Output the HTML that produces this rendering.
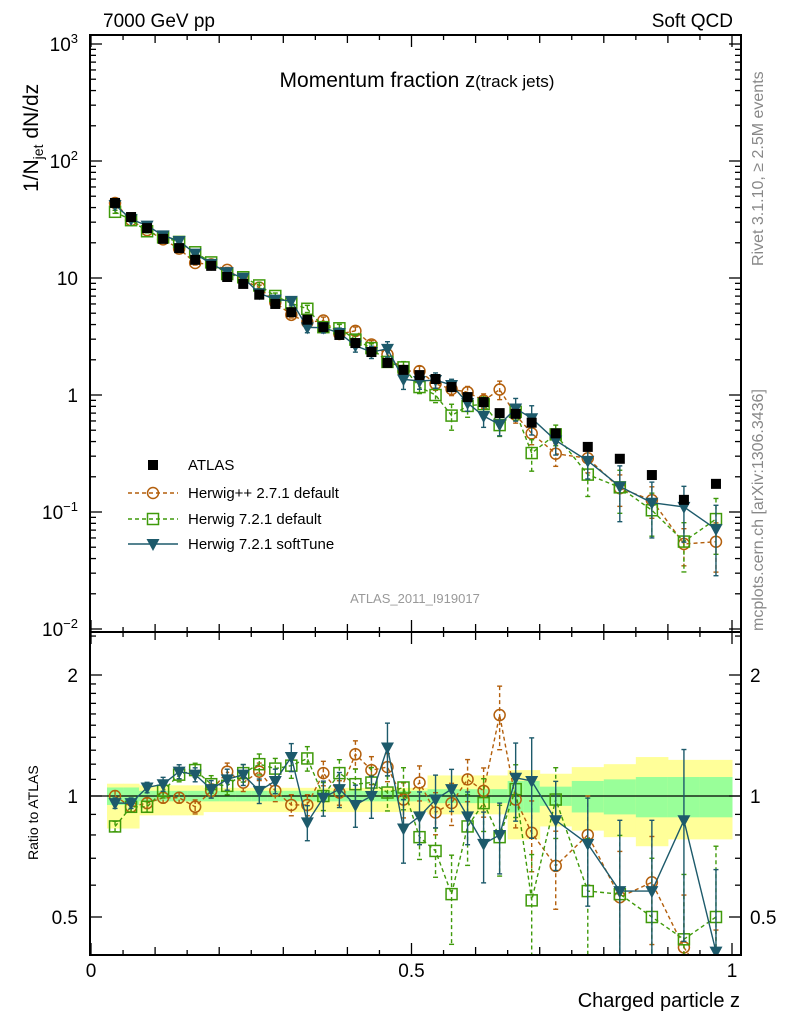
<!DOCTYPE html>
<html><head><meta charset="utf-8"><style>
html,body{margin:0;padding:0;background:#fff;width:786px;height:1024px;overflow:hidden;}
svg{display:block;font-family:"Liberation Sans",sans-serif;}
</style></head><body>
<svg id="c" width="786" height="1024" viewBox="0 0 786 1024">
<defs>
<clipPath id="cm"><rect x="90" y="35" width="651" height="597"/></clipPath>
<clipPath id="cr"><rect x="90" y="632" width="651" height="323"/></clipPath>
</defs>
<text x="103" y="27" font-size="19">7000 GeV pp</text>
<text x="733" y="27" font-size="19" text-anchor="end">Soft QCD</text>
<text x="417" y="87" font-size="21" text-anchor="middle">Momentum fraction <tspan font-size="20">z</tspan><tspan font-size="17">(track jets)</tspan></text>
<text transform="translate(38,192) rotate(-90)" font-size="21">1/N<tspan font-size="14" dy="5">jet</tspan><tspan dy="-5"> dN/dz</tspan></text>
<text transform="translate(38,860) rotate(-90)" font-size="14">Ratio to ATLAS</text>
<text transform="translate(763,266) rotate(-90)" font-size="16" fill="#888">Rivet 3.1.10, ≥ 2.5M events</text>
<text transform="translate(763,631) rotate(-90)" font-size="16" fill="#888">mcplots.cern.ch [arXiv:1306.3436]</text>
<text x="415" y="603" font-size="13" fill="#999" text-anchor="middle">ATLAS_2011_I919017</text>
<text x="740" y="1007" font-size="20" text-anchor="end">Charged particle z</text>
<g id="g"></g>
</svg>
<script>
const zCenters=[0.0375,0.0625,0.0875,0.1125,0.1375,0.1625,0.1875,0.2125,0.2375,0.2625,0.2875,0.3125,0.3375,0.3625,0.3875,0.4125,0.4375,0.4625,0.4875,0.5125,0.5375,0.5625,0.5875,0.6125,0.6375,0.6625,0.6875,0.725,0.775,0.825,0.875,0.925,0.975];
const binHalf=[0.0125,0.0125,0.0125,0.0125,0.0125,0.0125,0.0125,0.0125,0.0125,0.0125,0.0125,0.0125,0.0125,0.0125,0.0125,0.0125,0.0125,0.0125,0.0125,0.0125,0.0125,0.0125,0.0125,0.0125,0.0125,0.0125,0.0125,0.025,0.025,0.025,0.025,0.025,0.025];
const atlasVals=[43.8,33.2,26.7,21.6,18.0,14.3,12.7,10.2,8.9,7.2,6.0,5.1,4.4,3.8,3.26,2.78,2.33,1.88,1.64,1.48,1.37,1.17,0.96,0.87,0.70,0.69,0.58,0.47,0.36,0.285,0.207,0.127,0.174];
const ratioHpp=[1.0,0.94,0.96,0.99,0.99,0.94,1.03,1.15,1.08,1.15,1.03,0.95,0.95,1.14,1.02,1.27,1.16,1.18,0.98,1.08,0.91,0.96,1.10,1.03,1.59,0.98,0.81,0.67,0.80,0.56,0.61,0.42,0.32];
const ratioH72=[0.84,0.94,0.94,1.03,1.13,1.16,1.07,1.06,1.14,1.20,1.17,1.19,1.24,1.0,1.14,1.07,1.08,1.02,1.05,0.79,0.73,0.57,0.84,0.96,0.79,1.04,0.55,0.98,0.58,0.57,0.50,0.44,0.50];
const ratioSoft=[0.96,0.96,1.05,1.07,1.15,1.13,1.04,1.10,1.13,1.03,1.09,1.25,0.86,0.99,1.04,0.95,1.0,1.32,0.83,0.89,0.98,1.04,0.89,0.76,0.80,1.11,1.09,0.87,0.76,0.58,0.58,0.87,0.41];
const errHpp=[0.03,0.03,0.03,0.03,0.03,0.04,0.04,0.05,0.05,0.05,0.06,0.06,0.06,0.07,0.07,0.08,0.08,0.08,0.10,0.10,0.12,0.12,0.12,0.14,0.18,0.15,0.2,0.22,0.25,0.3,0.3,0.35,0.45];
const errH72=[0.03,0.03,0.03,0.04,0.04,0.04,0.05,0.05,0.05,0.06,0.06,0.07,0.07,0.08,0.08,0.09,0.09,0.1,0.12,0.12,0.14,0.25,0.2,0.15,0.2,0.15,0.3,0.2,0.35,0.4,0.4,0.45,0.5];
const errSoft=[0.03,0.03,0.03,0.04,0.04,0.04,0.05,0.06,0.06,0.07,0.07,0.08,0.1,0.1,0.1,0.12,0.12,0.15,0.18,0.15,0.15,0.12,0.15,0.2,0.2,0.22,0.28,0.25,0.3,0.5,0.5,0.5,0.6];
const bandGreen=[0.05,0.05,0.03,0.03,0.03,0.03,0.03,0.03,0.03,0.03,0.03,0.03,0.03,0.03,0.03,0.03,0.03,0.03,0.03,0.03,0.04,0.04,0.04,0.04,0.04,0.09,0.09,0.055,0.09,0.10,0.115,0.115,0.115];
const bandYellowUp=[0.073,0.073,0.063,0.063,0.063,0.063,0.048,0.048,0.048,0.048,0.048,0.048,0.048,0.048,0.048,0.048,0.048,0.048,0.048,0.048,0.125,0.125,0.125,0.125,0.125,0.16,0.16,0.136,0.18,0.20,0.25,0.23,0.23];
const bandYellowDn=[0.17,0.17,0.105,0.105,0.105,0.105,0.088,0.088,0.088,0.088,0.088,0.088,0.088,0.088,0.088,0.088,0.088,0.088,0.088,0.088,0.10,0.10,0.10,0.10,0.10,0.22,0.22,0.16,0.18,0.21,0.25,0.22,0.22];
const mainTickLabels=["10^-2","10^-1","1","10","10^2","10^3"];
const ratioTickLabels=["0.5","1","2"];
const xTickLabels=["0","0.5","1"];

const NS="http://www.w3.org/2000/svg";
const G=document.getElementById('g');
function el(t,a,p){const e=document.createElementNS(NS,t);for(const k in a)e.setAttribute(k,a[k]);(p||G).appendChild(e);return e;}
const X0=90,X1=741;
const sx=z=>91+641*z;
const sy=v=>395-117*Math.log10(v);
const sr=r=>796-121*Math.log2(r);
const C={hpp:"#b35f0c",h72:"#3f9a0a",soft:"#1d5a6b"};

const gb=el('g',{'clip-path':'url(#cr)'});


zCenters.forEach((z,i)=>{
  const xa=sx(z-binHalf[i]),xb=sx(z+binHalf[i]);
  const y1=el('rect',{x:xa,y:sr(1+bandYellowUp[i]),width:xb-xa+0.5,height:sr(1-bandYellowDn[i])-sr(1+bandYellowUp[i]),fill:"#ffff99"},gb);
  
  
  const g1=el('rect',{x:xa,y:sr(1+bandGreen[i]),width:xb-xa+0.5,height:sr(1-bandGreen[i])-sr(1+bandGreen[i]),fill:"#99ff99"},gb);
  
  
});
const l1=el('line',{x1:X0,x2:X1,y1:sr(1),y2:sr(1),stroke:"#000","stroke-width":1.3});



function marker(type,x,y,col,p){
  let m;
  if(type==='sqf')m=el('rect',{x:x-5,y:y-5,width:10,height:10,fill:"#000"},p);
  else if(type==='circ')m=el('circle',{cx:x,cy:y,r:5.5,fill:"none",stroke:col,"stroke-width":1.5},p);
  else if(type==='sqo')m=el('rect',{x:x-5.5,y:y-5.5,width:11,height:11,fill:"none",stroke:col,"stroke-width":1.5},p);
  else m=el('path',{d:`M${x-6.5},${y-5}L${x+6.5},${y-5}L${x},${y+7}Z`,fill:col},p);
  return m;
}
function series(clip,ys,vals,errs,col,dash,type,name){
  const g=el('g',{'clip-path':`url(#${clip})`});
  
  
  const pts=vals.map((v,i)=>[sx(zCenters[i]),ys(v)]);
  el('polyline',{points:pts.map(p=>p.join(',')).join(' '),fill:"none",stroke:col,"stroke-width":1.4,"stroke-dasharray":dash||"none"},g);
  vals.forEach((v,i)=>{
    const x=pts[i][0];
    if(errs){
      const hi=ys(v*(1+errs[i])),lo=ys(Math.max(v*(1-errs[i]),1e-4));
      el('line',{x1:x,x2:x,y1:hi,y2:lo,stroke:col,"stroke-width":1.4,"stroke-dasharray":dash||"none"},g);
      el('line',{x1:x-2.5,x2:x+2.5,y1:hi,y2:hi,stroke:col,"stroke-width":1.4},g);
      el('line',{x1:x-2.5,x2:x+2.5,y1:lo,y2:lo,stroke:col,"stroke-width":1.4},g);
    }
    const m=marker(type,x,pts[i][1],col,g);
    
    
  });
}
const mcHpp=atlasVals.map((v,i)=>v*ratioHpp[i]);
const mcH72=atlasVals.map((v,i)=>v*ratioH72[i]);
const mcSoft=atlasVals.map((v,i)=>v*ratioSoft[i]);
series('cm',sy,mcHpp,errHpp,C.hpp,"4,3",'circ','herwigpp-main');
series('cm',sy,mcH72,errH72,C.h72,"4,3",'sqo','herwig72-main');
series('cm',sy,mcSoft,errSoft,C.soft,null,'tri','softtune-main');
const ga=el('g',{'clip-path':'url(#cm)'});


atlasVals.forEach((v,i)=>{const m=marker('sqf',sx(zCenters[i]),sy(v),"#000",ga);
  
  });
series('cr',sr,ratioHpp,errHpp,C.hpp,"4,3",'circ','herwigpp-ratio');
series('cr',sr,ratioH72,errH72,C.h72,"4,3",'sqo','herwig72-ratio');
series('cr',sr,ratioSoft,errSoft,C.soft,null,'tri','softtune-ratio');

const f1=el('rect',{x:X0,y:35,width:X1-X0,height:597,fill:"none",stroke:"#000","stroke-width":2});


const f2=el('rect',{x:X0,y:632,width:X1-X0,height:323,fill:"none",stroke:"#000","stroke-width":2});



const tk=el('g',{stroke:"#000","stroke-width":1.3});


for(let d=-2;d<=3;d++){
  const y=sy(Math.pow(10,d));
  el('line',{x1:X0,x2:X0+12,y1:y,y2:y},tk);el('line',{x1:X1-12,x2:X1,y1:y,y2:y},tk);
  for(let k=2;k<=9;k++){const yy=sy(k*Math.pow(10,d));if(yy<36)continue;
    el('line',{x1:X0,x2:X0+6,y1:yy,y2:yy},tk);el('line',{x1:X1-6,x2:X1,y1:yy,y2:yy},tk);}
}
mainTickLabels.forEach((s,i)=>{
  const d=i-2,y=sy(Math.pow(10,d));
  const t=el('text',{x:78,y:y+7,"font-size":19,"text-anchor":"end"});
  if(s.includes('^')){const [b,e]=s.split('^');t.textContent=b;const sp=el('tspan',{"font-size":13,dy:-8},t);sp.textContent=e.replace('-','−');}
  else t.textContent=s;
  
  
});
[0.4,0.5,0.6,0.7,0.8,0.9,1,1.1,1.2,1.3,1.4,1.5,1.6,1.7,1.8,1.9,2,2.5].forEach(r=>{
  const y=sr(r);if(y<633||y>954)return;const L=(r===0.5||r===1||r===2)?12:6;
  el('line',{x1:X0,x2:X0+L,y1:y,y2:y},tk);el('line',{x1:X1-L,x2:X1,y1:y,y2:y},tk);
});
ratioTickLabels.forEach(s=>{
  const y=sr(parseFloat(s));
  const a=el('text',{x:78,y:y+7,"font-size":19,"text-anchor":"end"});a.textContent=s;
  
  
  const b=el('text',{x:750,y:y+7,"font-size":19});b.textContent=s;
  
  
});
for(let k=0;k<=20;k++){const z=k*0.05,x=sx(z);const L=(k%10===0)?12:(k%2===0?8:5);
  el('line',{x1:x,x2:x,y1:955,y2:955-L},tk);el('line',{x1:x,x2:x,y1:632,y2:632+L},tk);
  el('line',{x1:x,x2:x,y1:632,y2:632-L},tk);el('line',{x1:x,x2:x,y1:35,y2:35+L},tk);}
xTickLabels.forEach(s=>{const t=el('text',{x:sx(parseFloat(s)),y:977,"font-size":19,"text-anchor":"middle"});t.textContent=s;
  
  });

const lg=el('g',{});


const legend=[['ATLAS','sqf','#000',null,465],['Herwig++ 2.7.1 default','circ',C.hpp,"4,3",493],['Herwig 7.2.1 default','sqo',C.h72,"4,3",519],['Herwig 7.2.1 softTune','tri',C.soft,null,544]];
legend.forEach(([n,t,c,d,y])=>{
  const e=el('g',{},lg);
  
  
  if(t!=='sqf')el('line',{x1:128,x2:178,y1:y,y2:y,stroke:c,"stroke-width":1.4,"stroke-dasharray":d||"none"},e);
  marker(t,153,y,c,e);
  const tx=el('text',{x:188,y:y+5,"font-size":15},e);tx.textContent=n;
});
</script>
</body></html>
